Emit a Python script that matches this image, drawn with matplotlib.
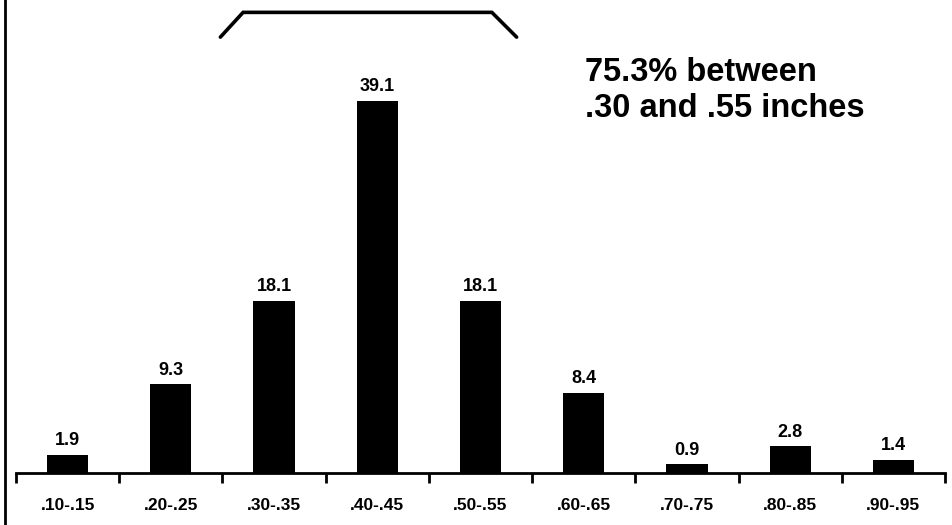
import numpy as np
import matplotlib.pyplot as plt
import matplotlib.lines as mlines

plt.rcParams['font.family'] = ['Liberation Sans', 'DejaVu Sans']
plt.rcParams['font.weight'] = 'bold'

categories = ['.10-.15', '.20-.25', '.30-.35', '.40-.45', '.50-.55',
              '.60-.65', '.70-.75', '.80-.85', '.90-.95']
percents = [1.9, 9.3, 18.1, 39.1, 18.1, 8.4, 0.9, 2.8, 1.4]
note_lines = ['75.3% between', '.30 and .55 inches']

figure_width = 9.52
figure_height = 5.25
fig = plt.figure(figsize=(figure_width, figure_height), dpi=100)

# panel placed by pixel edges of the reference
ax = fig.add_axes([16/952, 52/525, 929/952, 473/525])

x = np.arange(len(categories))
ax.bar(x, percents, width=0.40, color='black')

for xi, v in zip(x, percents):
    ax.annotate(f'{v}', (xi, v), xytext=(0, 7), textcoords='offset points',
                ha='center', va='baseline', fontsize=13, fontweight='bold')

ax.set_xlim(-0.5, len(categories) - 0.5)
ax.set_ylim(0, 49.7)

for s in ['top', 'right', 'left']:
    ax.spines[s].set_visible(False)
ax.spines['bottom'].set_linewidth(2)

ax.set_yticks([])
ax.set_xticks(np.arange(-0.5, len(categories), 1.0))
ax.set_xticklabels([])
ax.set_xticks(x, minor=True)
ax.set_xticklabels(categories, minor=True, fontsize=12.5, fontweight='bold')
ax.tick_params(axis='x', which='major', direction='out', length=7, width=2)
ax.tick_params(axis='x', which='minor', length=0, pad=18)

# bracket over the .30-.55 bars
ax.plot([1.48, 1.70, 4.11, 4.35], [45.8, 48.4, 48.4, 45.8], color='black',
        linewidth=2.6, solid_capstyle='round', solid_joinstyle='miter', clip_on=False)

# vertical frame line on the left
fig.add_artist(mlines.Line2D([5/952, 5/952], [0, 1], color='black', linewidth=2))

fig.text(585/952, 1 - 81/525, note_lines[0], fontsize=23.5, fontweight='bold', va='baseline')
fig.text(585/952, 1 - 117/525, note_lines[1], fontsize=23.5, fontweight='bold', va='baseline')

plt.savefig('out.png', dpi=100)
